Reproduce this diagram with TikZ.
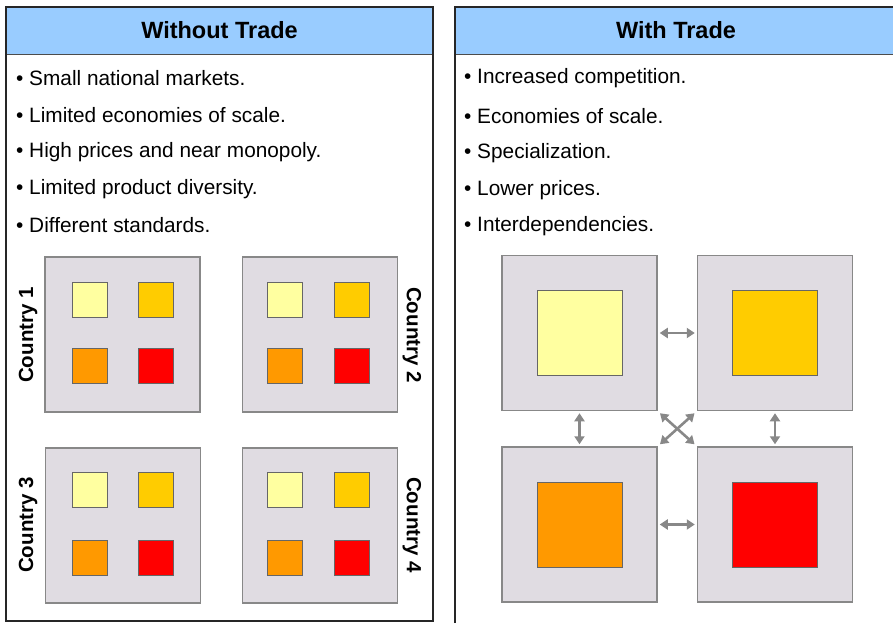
\documentclass[tikz,border=0pt]{standalone}
\usepackage{fontspec}
\setmainfont{Liberation Sans}
\usepackage{tikz}
\usetikzlibrary{arrows.meta, positioning}

\definecolor{headblue}{RGB}{153, 204, 255}
\definecolor{boxgray}{RGB}{224, 220, 226}
\definecolor{edgegray}{RGB}{136, 136, 136}
\definecolor{paleyellow}{RGB}{255, 255, 160}
\definecolor{goldyellow}{RGB}{255, 204, 0}
\definecolor{darkorange}{RGB}{255, 153, 0}
\definecolor{purered}{RGB}{255, 0, 0}

\tikzset{
  panel/.style={draw=black!85, line width=2.2pt, fill=white},
  header/.style={font=\fontsize{23.5}{27}\selectfont\bfseries},
  bullet/.style={anchor=west, inner sep=0pt, font=\fontsize{20.8}{24}\selectfont},
  country/.style={font=\fontsize{20.5}{24}\selectfont\bfseries},
  cbox/.style={draw=edgegray, line width=1.5pt, fill=boxgray, minimum size=155pt, inner sep=0pt},
  sq/.style={draw=black!60, line width=0.8pt, minimum size=35pt, inner sep=0pt},
  bigsq/.style={draw=black!60, line width=0.8pt, minimum size=85pt, inner sep=0pt},
  link/.style={draw=edgegray, line width=2.6pt, {Triangle[length=8pt,width=10pt]}-{Triangle[length=8pt,width=10pt]}}
}

\begin{document}
\begin{tikzpicture}[x=1pt, y=-1pt]
  \useasboundingbox (0,0) rectangle (893,623);

  % left panel
  \fill[white] (0,0) rectangle (893,623);
  \draw[panel] (6,7) rectangle (433,621);
  \fill[headblue] (7,8) rectangle (432,55);
  \draw[black!70, line width=1pt] (7,55) -- (432,55);
  \node[header] (hwithout) at (219.5,30) {Without Trade};

  \node[bullet] (w1) at (16,78) {\textbullet\ Small national markets.};
  \node[bullet] (w2) at (16,115) {\textbullet\ Limited economies of scale.};
  \node[bullet] (w3) at (16,152) {\textbullet\ High prices and near monopoly.};
  \node[bullet] (w4) at (16,189) {\textbullet\ Limited product diversity.};
  \node[bullet] (w5) at (16,225) {\textbullet\ Different standards.};

  % four closed markets
  \node[cbox] (c1) at (122.5,334.5) {};
  \node[cbox] (c2) at (320,334.5) {};
  \node[cbox] (c3) at (123,525.5) {};
  \node[cbox] (c4) at (320,525.5) {};

  \node[sq, fill=paleyellow] (c1a) at (89.5,300) {};
  \node[sq, fill=goldyellow] (c1b) at (156,300) {};
  \node[sq, fill=darkorange] (c1c) at (89.5,366) {};
  \node[sq, fill=purered] (c1d) at (156,366) {};

  \node[sq, fill=paleyellow] (c2a) at (284.5,300) {};
  \node[sq, fill=goldyellow] (c2b) at (351.5,300) {};
  \node[sq, fill=darkorange] (c2c) at (284.5,366) {};
  \node[sq, fill=purered] (c2d) at (351.5,366) {};

  \node[sq, fill=paleyellow] (c3a) at (89.5,490) {};
  \node[sq, fill=goldyellow] (c3b) at (156,490) {};
  \node[sq, fill=darkorange] (c3c) at (89.5,557.5) {};
  \node[sq, fill=purered] (c3d) at (156,557.5) {};

  \node[sq, fill=paleyellow] (c4a) at (284.5,490) {};
  \node[sq, fill=goldyellow] (c4b) at (351.5,490) {};
  \node[sq, fill=darkorange] (c4c) at (284.5,557.5) {};
  \node[sq, fill=purered] (c4d) at (351.5,557.5) {};

  \node[country, rotate=90] (lab1) at (28,335) {Country 1};
  \node[country, rotate=-90] (lab2) at (412,335) {Country 2};
  \node[country, rotate=90] (lab3) at (28,525) {Country 3};
  \node[country, rotate=-90] (lab4) at (412,525) {Country 4};

  % right panel (open to the right and bottom)
  \fill[white] (455,7) rectangle (893,623);
  \fill[headblue] (456,8) rectangle (893,55);
  \draw[black!70, line width=1pt] (456,55) -- (893,55);
  \draw[black!85, line width=2.2pt] (455,623) -- (455,7) -- (893,7);
  \node[header] (hwith) at (676,30) {With Trade};

  \node[bullet] (t1) at (464,78) {\textbullet\ Increased competition.};
  \node[bullet] (t2) at (464,116) {\textbullet\ Economies of scale.};
  \node[bullet] (t3) at (464,153) {\textbullet\ Specialization.};
  \node[bullet] (t4) at (464,190) {\textbullet\ Lower prices.};
  \node[bullet] (t5) at (464,226) {\textbullet\ Interdependencies.};

  % integrated market
  \node[cbox] (tl) at (579.5,333) {};
  \node[cbox] (tr) at (775,333) {};
  \node[cbox] (bl) at (579.5,524.5) {};
  \node[cbox] (br) at (775,524.5) {};

  \node[bigsq, fill=paleyellow] at (tl) {};
  \node[bigsq, fill=goldyellow] at (tr) {};
  \node[bigsq, fill=darkorange] at (bl) {};
  \node[bigsq, fill=purered] at (br) {};

  \draw[link, shorten <=2pt, shorten >=2pt] (tl) -- (tr);
  \draw[link, shorten <=2pt, shorten >=2pt] (bl) -- (br);
  \draw[link, shorten <=2pt, shorten >=2pt] (tl) -- (bl);
  \draw[link, shorten <=2pt, shorten >=2pt] (tr) -- (br);
  \draw[link, shorten <=3pt, shorten >=3pt] (tl.south east) -- (br.north west);
  \draw[link, shorten <=3pt, shorten >=3pt] (tr.south west) -- (bl.north east);
\end{tikzpicture}
\end{document}
